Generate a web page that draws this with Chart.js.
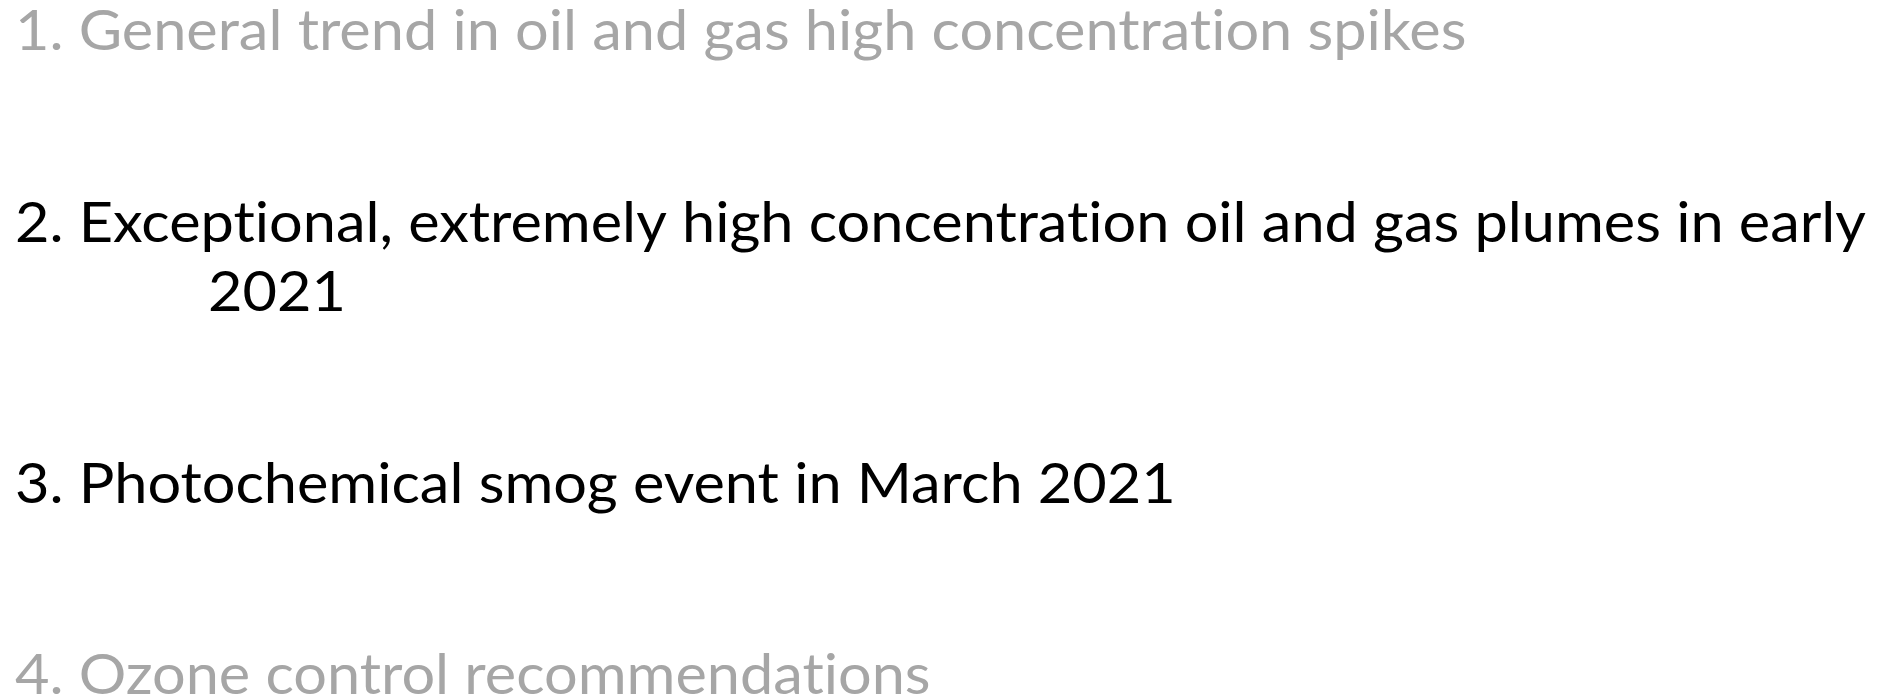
<!DOCTYPE html>
<html>
<head>
<meta charset="utf-8">
<script src="https://cdn.jsdelivr.net/npm/chart.js@4"></script>
<style>
  html, body { margin: 0; padding: 0; background: #ffffff; }
  #wrap { width: 1892px; height: 697px; }
</style>
</head>
<body>
<div id="wrap"><canvas id="slide"></canvas></div>
<script>
// textos dos itens da lista (ordem de cima para baixo)
const itemText = [
  "1. General trend in oil and gas high concentration spikes",
  "2. Exceptional, extremely high concentration oil and gas plumes in early",
  "2021",
  "3. Photochemical smog event in March 2021",
  "4. Ozone control recommendations"
]
// true = item destacado (preto), false = apagado (cinza)
const itemActive = [false, true, true, true, false]

// layout
const baselines = [50, 242, 311, 503, 694]
const lefts = [15, 15, 208, 15, 15]
const fontPx = 56
const lineTarget = 1851 // largura da linha 2 no original

// sem ligadura "ti" (o original não tem)
const noLig = t => t.replace(/t(?=i)/g, 't\u200C')

const slideText = {
  id: 'slideText',
  afterDraw(chart) {
    const ctx = chart.ctx
    ctx.save()
    ctx.font = fontPx + 'px Lato'
    ctx.textBaseline = 'alphabetic'
    const sx = lineTarget / ctx.measureText(noLig(itemText[1])).width
    itemText.forEach((t, i) => {
      ctx.save()
      ctx.translate(lefts[i], baselines[i])
      ctx.scale(sx, 1)
      ctx.fillStyle = itemActive[i] ? '#000000' : '#a6a6a6'
      ctx.fillText(noLig(t), 0, 0)
      ctx.restore()
    })
    ctx.restore()
  }
}

const slide = new Chart(document.getElementById('slide'), {
  type: 'line',
  data: { labels: [], datasets: [] },
  options: {
    responsive: true,
    maintainAspectRatio: false,
    animation: false,
    events: [],
    plugins: { legend: { display: false }, tooltip: { enabled: false } },
    scales: { x: { display: false }, y: { display: false } }
  },
  plugins: [slideText]
})
</script>
</body>
</html>
